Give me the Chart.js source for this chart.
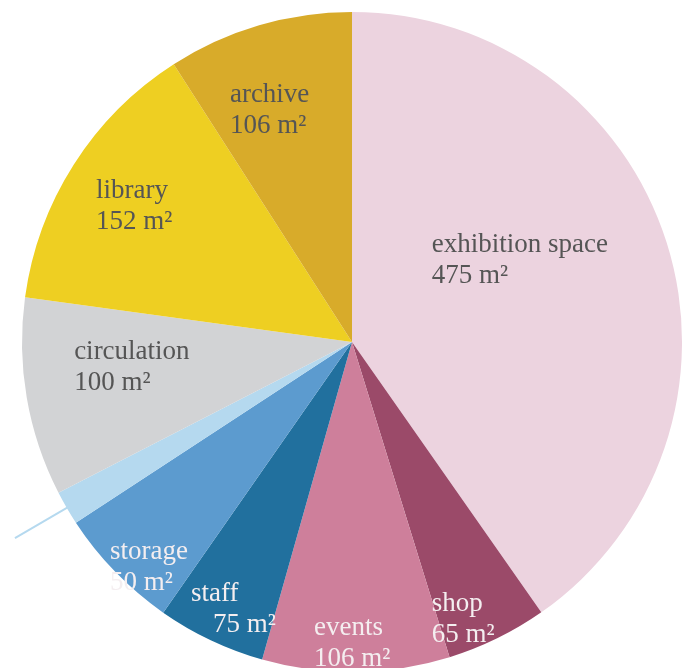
<!DOCTYPE html>
<html>
<head>
<meta charset="utf-8">
<script src="https://cdn.jsdelivr.net/npm/chart.js@4.4.1/dist/chart.umd.min.js"></script>
<style>
	html, body { margin: 0; padding: 0; background: #fff; overflow: hidden; }
	.chart-box { position: relative; width: 694px; height: 684px; }
</style>
</head>
<body>
<div class="chart-box">
	<canvas id="area-pie"></canvas>
</div>
<script>
// rooms clockwise from 12 o'clock
const rooms = ['exhibition space', 'shop', 'events', 'staff', 'storage', 'services', 'circulation', 'library', 'archive'];
// areas as printed on the labels (m²)
const areas = [475, 65, 106, 75, 50, 18, 100, 152, 106];
// slice sizes as drawn in the picture (degrees of the circle)
const sliceSizes = [145, 17.8, 33, 19.1, 21.9, 6, 35, 49.5, 32.7];
const sliceColors = ['#ecd3df', '#9b4a69', '#ce7f9b', '#21709e', '#5c9bcf', '#b5d9ef', '#d2d3d5', '#eecf22', '#d8ab2a'];
const textColors = ['#555', '#f4eef0', '#f4eef0', '#f4eef0', '#f4eef0', null, '#555', '#555', '#555'];

// where each label starts, as a fraction of the radius from the centre
const labelSpots = [
	[0.242, -0.294], [0.242, 0.794], [-0.115, 0.867], [-0.488, 0.764], [-0.733, 0.636],
	null, [-0.842, 0.03], [-0.776, -0.458], [-0.37, -0.748],
];

const sliceLabels = {
	id: 'sliceLabels',
	afterDatasetsDraw(chart) {
		const ctx = chart.ctx;
		const arcs = chart.getDatasetMeta(0).data;
		ctx.save();
		ctx.font = '27px "Liberation Serif", "DejaVu Serif", serif';
		ctx.textBaseline = 'middle';
		ctx.textAlign = 'left';
		arcs.forEach((arc, i) => {
			const r = arc.outerRadius;
			if (!labelSpots[i]) {
				// thin slice gets a leader line going outwards
				const mid = (arc.startAngle + arc.endAngle) / 2;
				ctx.strokeStyle = sliceColors[i];
				ctx.lineWidth = 2;
				ctx.beginPath();
				ctx.moveTo(arc.x + Math.cos(mid) * (r - 4), arc.y + Math.sin(mid) * (r - 4));
				ctx.lineTo(arc.x + Math.cos(mid) * (r + 60), arc.y + Math.sin(mid) * (r + 60));
				ctx.stroke();
				return;
			}
			const x = arc.x + labelSpots[i][0] * r;
			const y = arc.y + labelSpots[i][1] * r;
			ctx.fillStyle = textColors[i];
			ctx.fillText(rooms[i], x, y);
			const indent = rooms[i] === 'staff' ? 22 : 0;
			ctx.fillText(areas[i] + ' m²', x + indent, y + 31);
		});
		ctx.restore();
	},
};

new Chart(document.getElementById('area-pie'), {
	type: 'pie',
	data: {
		labels: rooms,
		datasets: [
			{
				data: sliceSizes,
				backgroundColor: sliceColors,
				borderWidth: 0,
			},
		],
	},
	options: {
		responsive: true,
		maintainAspectRatio: false,
		animation: false,
		layout: {
			padding: { top: 12, bottom: 12, left: 22, right: 12 },
		},
		plugins: {
			legend: { display: false },
			tooltip: { enabled: false },
		},
	},
	plugins: [sliceLabels],
});
</script>
</body>
</html>
